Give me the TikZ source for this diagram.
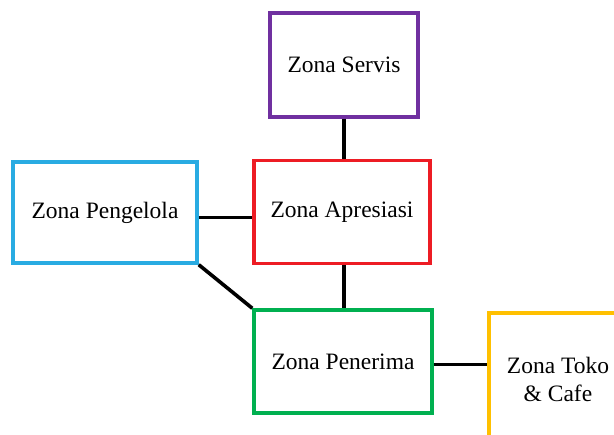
\documentclass[tikz,border=0pt]{standalone}
\usepackage{fontspec}
\setmainfont{Liberation Serif}
\definecolor{zservis}{RGB}{112,48,160}
\definecolor{zapresiasi}{RGB}{237,28,36}
\definecolor{zpengelola}{RGB}{41,171,226}
\definecolor{zpenerima}{RGB}{0,176,80}
\definecolor{ztoko}{RGB}{255,192,0}
\tikzset{
  zona/.style={draw=#1, line width=3.4pt, fill=white, text=black, inner sep=0pt,
    align=center, font=\fontsize{23.5}{28}\selectfont},
  link/.style={line width=3.6pt, black}
}
\begin{document}
\begin{tikzpicture}[x=1pt,y=-1pt]
      \useasboundingbox (0,0) rectangle (614,435);
      \clip (0,0) rectangle (614,435);
      \draw
        (344,65) node[zona=zservis, minimum width=148pt, minimum height=104pt] (servis){Zona Servis}
        (342,212) node[zona=zapresiasi, minimum width=176pt, minimum height=103pt] (apresiasi){Zona Apresiasi}
        (105,212.5) node[zona=zpengelola, minimum width=184pt, minimum height=101pt] (pengelola){Zona Pengelola}
        (343,361.5) node[zona=zpenerima, minimum width=178pt, minimum height=103pt] (penerima){Zona Penerima}
        (558,379) node[zona=ztoko, minimum width=138pt, minimum height=132pt] (toko){Zona Toko\\\& Cafe};
      \begin{scope}[link]
        \draw (servis.south) to (servis.south |- apresiasi.north);
        \draw (pengelola.east) ++(0,5) coordinate (pe) to (pe -| apresiasi.west);
        \draw (servis.south |- apresiasi.south) to (servis.south |- penerima.north);
        \draw (pengelola.south east) to (penerima.north west);
        \draw (penerima.east) ++(0,3) coordinate (pr) to (pr -| toko.west);
      \end{scope}
    \end{tikzpicture}
\end{document}
